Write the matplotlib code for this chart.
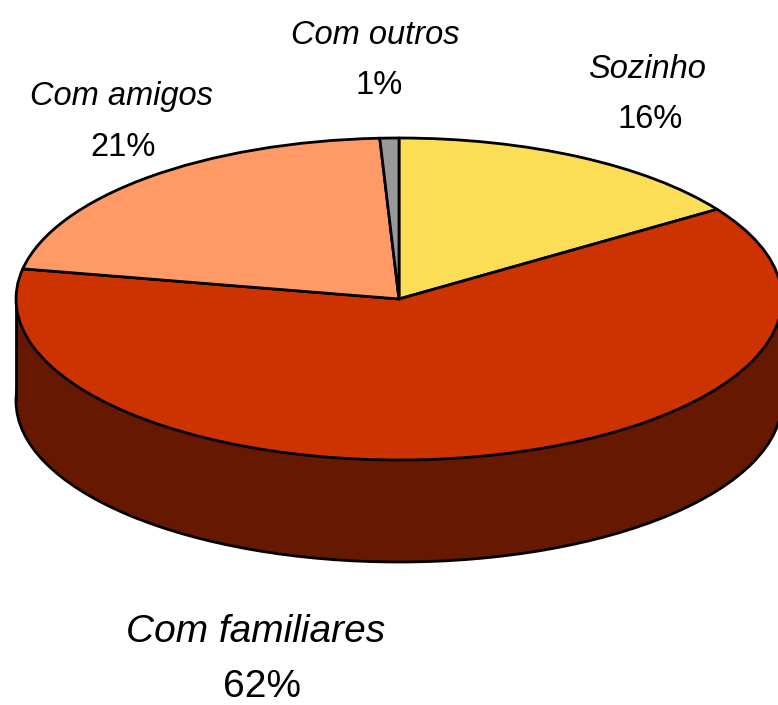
import matplotlib
matplotlib.use('Agg')
import matplotlib.pyplot as plt

labels = ['Sozinho', 'Com familiares', 'Com amigos', 'Com outros']
values = [15.6, 62.4, 21.2, 0.8]
colors = ['#FBDE55', '#CC3300', '#FF9966', '#999999']
side_color = '#661900'

W, H = 778, 705
cx, cy = 399, 299     # centre of the top ellipse, pixels
rx, ry = 383, 161     # its radii
depth = 102

fig = plt.figure(figsize=(W / 100, H / 100), dpi=100)
ax = fig.add_axes([0, 0, 1, 1])

d = depth / ry
edge = dict(edgecolor='black', linewidth=2)

# side of the cake first, then the top on it
ax.pie([1], colors=[side_color], center=(0, -d), radius=1, wedgeprops=dict(zorder=1, **edge))
ax.fill_between([-1, 1], [-d, -d], [0, 0], color=side_color, linewidth=0, zorder=2)
ax.plot([-1, -1], [-d, 0], color='black', lw=2, zorder=3, solid_capstyle='butt')
ax.plot([1, 1], [-d, 0], color='black', lw=2, zorder=3, solid_capstyle='butt')
ax.pie(values, colors=colors, startangle=90, counterclock=False, radius=1,
       wedgeprops=dict(zorder=4, joinstyle='round', **edge))

# one data unit is rx pixels across and ry pixels down, this squashes the circle
ax.set_aspect('auto')
ax.set_xlim(-cx / rx, (W - cx) / rx)
ax.set_ylim((cy - H) / ry, cy / ry)
ax.axis('off')

name_pos = [(647, 69), (256, 632), (122, 96), (375, 35)]
val_pos = [(650, 120), (262, 687), (123, 147), (379, 86)]
for name, val, p1, p2 in zip(labels, values, name_pos, val_pos):
    size = 28 if name == 'Com familiares' else 23.5
    fig.text(p1[0] / W, 1 - p1[1] / H, name, ha='center', va='center', fontsize=size,
             family='Liberation Sans', style='italic', color='black')
    fig.text(p2[0] / W, 1 - p2[1] / H, f'{val:.0f}%', ha='center', va='center', fontsize=size,
             family='Liberation Sans', color='black')

fig.savefig('out.png', dpi=100)
